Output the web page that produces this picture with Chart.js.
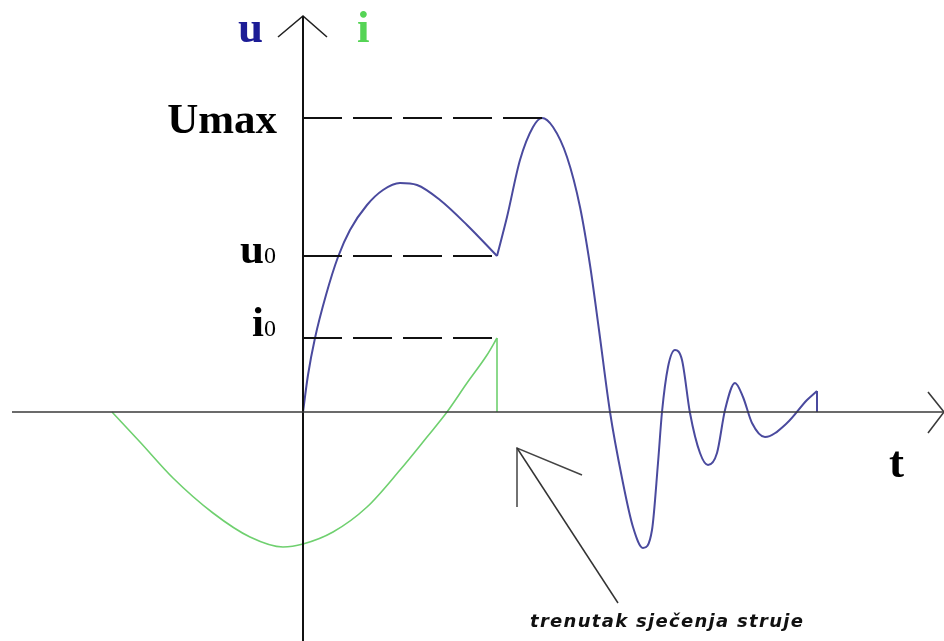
<!DOCTYPE html>
<html>
<head>
    <title>Prekidanje struje</title>
    <meta charset="utf-8">
    <script src="https://cdn.jsdelivr.net/npm/chart.js"></script>
    <style>
        body { margin: 0; background: #fff; }
        canvas { display: block; }
    </style>
</head>
<body>
    <canvas id="myChart" width="944" height="641"></canvas>
    <script>
        // levels marked on the u/i axis
        var UMAX = 29.4, U0 = 15.6, I0 = 7.4;
        var T_CUT = 19.4;   // trenutak sjecenja struje

        // napon u(t): rise up to the cut, then the overvoltage and damped oscillation
        var uBeforeCut = [[0,0],[0.5,3.7],[1.2,7.4],[2.3,11.7],[3.5,15.5],[4.7,18.2],[6.4,20.7],
            [8.0,22.2],[9.7,22.9],[11.4,22.7],[13.7,21.2],[16.4,18.7],[19.4,15.6]];
        var uAfterCut = [[19.4,15.6],[20.4,19.5],[21.7,25.2],[23.0,28.5],[23.9,29.4],[25.0,28.5],
            [26.4,25.5],[27.7,20.5],[28.7,14.7],[29.6,8.2],[30.7,0],[31.9,-6.6],[33.0,-11.5],
            [34.0,-13.6],[34.9,-11.8],[35.5,-5.1],[35.9,0],[36.5,4.5],[37.2,6.2],
            [37.9,5.2],[38.7,-0.1],[39.7,-4.1],[40.5,-5.3],[41.4,-4.1],[42.2,0.2],[43.2,2.9],
            [44.0,1.5],[44.9,-1.1],[46.2,-2.5],[48.4,-1.1],[50.4,1.2],[51.4,2.1]];
        var uEnd = [[51.4,2.1],[51.4,0]];

        // struja i(t) until it is chopped at i0
        var iBeforeCut = [[-19.1,0],[-16.3,-3.0],[-13.0,-6.6],[-9.0,-10.1],[-5.3,-12.5],[-2.0,-13.5],
            [0,-13.2],[3.0,-12.0],[6.4,-9.5],[9.7,-5.8],[12.4,-2.5],[14.4,0],[16.4,2.9],
            [18.4,5.7],[19.4,7.4]];
        var iChop = [[19.4,7.4],[19.4,0]];

        // axis extents and the pointer to the cut instant
        var T_MIN = -30.3, T_MAX = 64.1, Y_MIN = -22.9, Y_MAX = 41.2;
        var tAxis = [[-29.1,0],[64.1,0]];
        var tArrow = [[62.5,2.0],[64.1,0],[62.5,-2.1]];
        var yAxis = [[0,-22.9],[0,39.6]];
        var yArrow = [[-2.5,37.5],[0,39.6],[2.4,37.5]];
        var pointerLine = [[31.5,-19.1],[21.4,-3.6]];
        var pointerHead = [[21.4,-9.5],[21.4,-3.6],[27.9,-6.3]];

        function pts(arr) {
            return arr.map(function (p) { return {x: p[0], y: p[1]}; });
        }
        function line(arr, color, width, extra) {
            var ds = {data: pts(arr), showLine: true, borderColor: color, borderWidth: width,
                pointRadius: 0, tension: 0, clip: false};
            for (var k in extra) ds[k] = extra[k];
            return ds;
        }
        var smooth = {cubicInterpolationMode: 'monotone'};

        var BLUE = '#4a4a9e', GREEN = '#6fd06f';

        // text on the diagram, placed through the scales
        var labels = {
            id: 'labels',
            afterDatasetsDraw: function (chart) {
                var ctx = chart.ctx;
                var xs = chart.scales.x, ys = chart.scales.y;
                var x0 = xs.getPixelForValue(0);
                ctx.save();
                ctx.textBaseline = 'alphabetic';
                var big = 'bold 43px "Liberation Serif", serif';
                var sub = '24px "Liberation Serif", serif';

                ctx.fillStyle = '#1c1c96';
                ctx.font = 'bold 45px "Liberation Serif", serif';
                ctx.textAlign = 'right';
                ctx.fillText('u', x0 - 40, ys.getPixelForValue(Y_MAX) + 42);
                ctx.fillStyle = '#55d455';
                ctx.textAlign = 'left';
                ctx.fillText('i', x0 + 54, ys.getPixelForValue(Y_MAX) + 42);

                ctx.fillStyle = '#000';
                ctx.font = big;
                ctx.textAlign = 'right';
                ctx.fillText('Umax', x0 - 26, ys.getPixelForValue(UMAX) + 15);

                // u0 and i0 with a small subscript
                function withSub(main, s, base) {
                    ctx.font = sub;
                    var w = ctx.measureText(s).width;
                    ctx.textAlign = 'right';
                    ctx.fillText(s, x0 - 27, base);
                    ctx.font = big;
                    ctx.fillText(main, x0 - 27 - w, base);
                }
                withSub('u', '0', ys.getPixelForValue(U0) + 7);
                withSub('i', '0', ys.getPixelForValue(I0) - 2);

                ctx.font = 'bold 45px "Liberation Serif", serif';
                ctx.textAlign = 'left';
                ctx.fillText('t', xs.getPixelForValue(58.6), ys.getPixelForValue(0) + 65);

                ctx.font = 'italic bold 18px "DejaVu Sans", sans-serif';
                ctx.letterSpacing = '1.3px';
                ctx.fillStyle = '#111';
                ctx.fillText('trenutak sječenja struje', xs.getPixelForValue(22.7), ys.getPixelForValue(0) + 215);
                ctx.restore();
            }
        };

        var ctx = document.getElementById('myChart').getContext('2d');
        var myChart = new Chart(ctx, {
            type: 'scatter',
            data: {
                datasets: [
                    line(tAxis, '#3a3a3a', 1.6),
                    line(tArrow, '#3a3a3a', 1.6),
                    line(yAxis, '#111', 2),
                    line(yArrow, '#222', 1.6),
                    line([[0,UMAX],[23.9,UMAX]], '#111', 2, {borderDash: [39, 11]}),
                    line([[0,U0],[T_CUT,U0]], '#111', 2, {borderDash: [39, 11]}),
                    line([[0,I0],[T_CUT,I0]], '#111', 2, {borderDash: [39, 11]}),
                    line(iBeforeCut, GREEN, 1.6, smooth),
                    line(iChop, GREEN, 1.6),
                    line(uBeforeCut, BLUE, 2, smooth),
                    line(uAfterCut, BLUE, 2, smooth),
                    line(uEnd, BLUE, 2),
                    line(pointerLine, '#333', 1.5),
                    line(pointerHead, '#444', 1.5)
                ]
            },
            options: {
                responsive: false,
                animation: false,
                layout: { padding: 0 },
                plugins: { legend: { display: false }, tooltip: { enabled: false } },
                scales: {
                    x: { type: 'linear', display: false, min: T_MIN, max: T_MAX },
                    y: { type: 'linear', display: false, min: Y_MIN, max: Y_MAX }
                }
            },
            plugins: [labels]
        });
    </script>
</body>
</html>
